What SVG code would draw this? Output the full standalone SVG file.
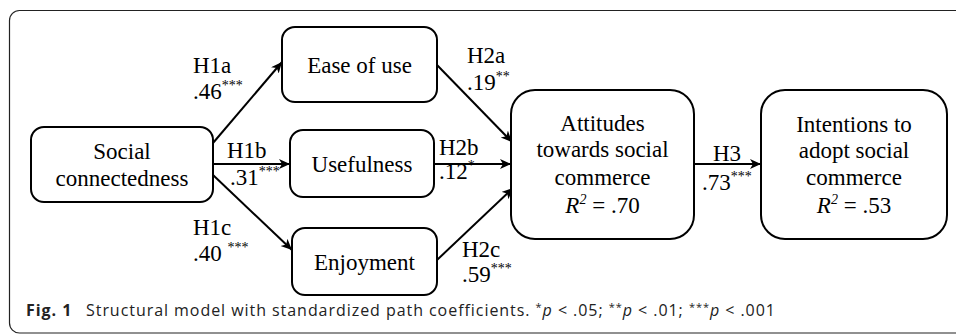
<svg xmlns="http://www.w3.org/2000/svg" width="956" height="336" viewBox="0 0 956 336">
<defs>
<marker id="ah" markerUnits="userSpaceOnUse" markerWidth="14" markerHeight="12" refX="11" refY="5" orient="auto">
<path d="M0,0 L11,5 L0,10 L3,5 z" fill="#000"/>
</marker>
</defs>
<rect x="9.5" y="10.5" width="980" height="322.5" rx="10" fill="#fff" stroke="#222" stroke-width="1.2"/>
<g id="connectors" stroke="#000" stroke-width="2" fill="none">
<line x1="213" y1="143" x2="282" y2="62" marker-end="url(#ah)"/>
<line x1="213" y1="164" x2="290" y2="164" marker-end="url(#ah)"/>
<line x1="213" y1="175" x2="292" y2="250" marker-end="url(#ah)"/>
<line x1="437" y1="65" x2="512" y2="142" marker-end="url(#ah)"/>
<line x1="434" y1="164" x2="511" y2="164" marker-end="url(#ah)"/>
<line x1="437" y1="260" x2="513" y2="188" marker-end="url(#ah)"/>
<line x1="694" y1="164" x2="761" y2="164" marker-end="url(#ah)"/>
</g>
<g id="edge-labels">
<text style="font-family:'Liberation Serif',serif;font-size:23px" x="193" y="73">H1a</text>
<text style="font-family:'Liberation Serif',serif;font-size:23px" x="193" y="99">.46<tspan style="font-size:14px" dy="-9">***</tspan></text>
<text style="font-family:'Liberation Serif',serif;font-size:23px" x="227" y="158">H1b</text>
<text style="font-family:'Liberation Serif',serif;font-size:23px" x="230" y="185">.31<tspan style="font-size:14px" dy="-9">***</tspan></text>
<text style="font-family:'Liberation Serif',serif;font-size:23px" x="193" y="235">H1c</text>
<text style="font-family:'Liberation Serif',serif;font-size:23px" x="193" y="261">.40 <tspan style="font-size:14px" dy="-9">***</tspan></text>
<text style="font-family:'Liberation Serif',serif;font-size:23px" x="467" y="63">H2a</text>
<text style="font-family:'Liberation Serif',serif;font-size:23px" x="467" y="90">.19<tspan style="font-size:14px" dy="-9">**</tspan></text>
<text style="font-family:'Liberation Serif',serif;font-size:23px" x="439" y="155">H2b</text>
<text style="font-family:'Liberation Serif',serif;font-size:23px" x="439" y="179">.12<tspan style="font-size:14px" dy="-9">*</tspan></text>
<text style="font-family:'Liberation Serif',serif;font-size:23px" x="462" y="257">H2c</text>
<text style="font-family:'Liberation Serif',serif;font-size:23px" x="462" y="282">.59<tspan style="font-size:14px" dy="-9">***</tspan></text>
<text style="font-family:'Liberation Serif',serif;font-size:23px" x="713" y="161">H3</text>
<text style="font-family:'Liberation Serif',serif;font-size:23px" x="702" y="190">.73<tspan style="font-size:14px" dy="-9">***</tspan></text>
</g>
<g id="social">
<rect x="31" y="127" width="182" height="75" rx="13" fill="#fff" stroke="#000" stroke-width="2"/>
<text style="font-family:'Liberation Serif',serif;font-size:23px" text-anchor="middle" x="122" y="159">Social</text>
<text style="font-family:'Liberation Serif',serif;font-size:23px" text-anchor="middle" x="122" y="186">connectedness</text>
</g>
<g id="ease">
<rect x="282" y="27" width="155" height="75" rx="13" fill="#fff" stroke="#000" stroke-width="2"/>
<text style="font-family:'Liberation Serif',serif;font-size:23px" text-anchor="middle" x="359.5" y="73">Ease of use</text>
</g>
<g id="usefulness">
<rect x="290" y="130" width="144" height="67" rx="13" fill="#fff" stroke="#000" stroke-width="2"/>
<text style="font-family:'Liberation Serif',serif;font-size:23px" text-anchor="middle" x="362" y="172">Usefulness</text>
</g>
<g id="enjoyment">
<rect x="292" y="228" width="145" height="67" rx="13" fill="#fff" stroke="#000" stroke-width="2"/>
<text style="font-family:'Liberation Serif',serif;font-size:23px" text-anchor="middle" x="364.5" y="270">Enjoyment</text>
</g>
<g id="attitudes">
<rect x="511" y="90" width="183" height="149" rx="24" fill="#fff" stroke="#000" stroke-width="2"/>
<text style="font-family:'Liberation Serif',serif;font-size:23px" text-anchor="middle" x="602.5" y="131">Attitudes</text>
<text style="font-family:'Liberation Serif',serif;font-size:23px" text-anchor="middle" x="602.5" y="157">towards social</text>
<text style="font-family:'Liberation Serif',serif;font-size:23px" text-anchor="middle" x="602.5" y="185">commerce</text>
<text style="font-family:'Liberation Serif',serif;font-size:23px" text-anchor="middle" x="602.5" y="213"><tspan font-style="italic">R</tspan><tspan font-style="italic" style="font-size:14px" dy="-9">2</tspan><tspan dy="9"> = .70</tspan></text>
</g>
<g id="intentions">
<rect x="761" y="90" width="186" height="149" rx="24" fill="#fff" stroke="#000" stroke-width="2"/>
<text style="font-family:'Liberation Serif',serif;font-size:23px" text-anchor="middle" x="854" y="132">Intentions to</text>
<text style="font-family:'Liberation Serif',serif;font-size:23px" text-anchor="middle" x="854" y="158">adopt social</text>
<text style="font-family:'Liberation Serif',serif;font-size:23px" text-anchor="middle" x="854" y="185">commerce</text>
<text style="font-family:'Liberation Serif',serif;font-size:23px" text-anchor="middle" x="854" y="213"><tspan font-style="italic">R</tspan><tspan font-style="italic" style="font-size:14px" dy="-9">2</tspan><tspan dy="9"> = .53</tspan></text>
</g>
<g id="caption">
<text style="font-family:'Open Sans',sans-serif;font-size:16px;fill:#222;letter-spacing:0.95px" x="26" y="316"><tspan font-weight="bold">Fig. 1</tspan><tspan x="86">Structural model with standardized path coefficients. </tspan><tspan style="font-size:11px" dy="-5">*</tspan><tspan dy="5" font-style="italic">p</tspan><tspan> &lt; .05; </tspan><tspan style="font-size:11px" dy="-5">**</tspan><tspan dy="5" font-style="italic">p</tspan><tspan> &lt; .01; </tspan><tspan style="font-size:11px" dy="-5">***</tspan><tspan dy="5" font-style="italic">p</tspan><tspan> &lt; .001</tspan></text>
</g>
</svg>
